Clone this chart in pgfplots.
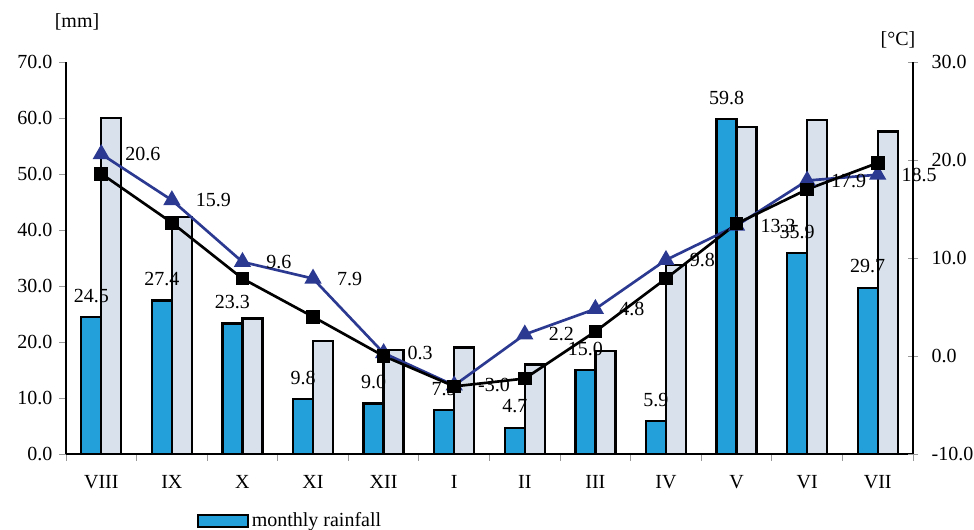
\documentclass[border=0pt]{standalone}
\usepackage{pgfplots}
\pgfplotsset{compat=1.18}
\usepackage{fontspec}
\setmainfont{Liberation Serif}
\definecolor{rainblue}{HTML}{23A0DA}
\definecolor{avggray}{HTML}{D9E2EC}
\definecolor{tblue}{HTML}{2B3990}
\pgfplotsset{/pgf/number format/assume math mode=true}
\tikzset{onedec/.style={/pgf/number format/fixed, /pgf/number format/fixed zerofill, /pgf/number format/precision=1}}
\begin{document}
\fontsize{15}{17}\selectfont
\begin{tikzpicture}
\pgfplotsset{
  base/.style={scale only axis, width=635.25pt, height=294pt,
    xmin=-0.5, xmax=11.5, clip=false},
}
\begin{axis}[base,
  ymin=0, ymax=70, ytick={0,10,...,70},
  axis x line*=bottom, axis y line*=left,
  axis line style={black, line width=1pt, -},
  yticklabel style={onedec},
  tick align=outside, major tick length=5pt,
  tick style={gray!80, line width=0.7pt},
  xtick={-0.5,0.5,...,11.5},
  x tick label as interval=true,
  xticklabels={VIII,IX,X,XI,XII,I,II,III,IV,V,VI,VII},
  xticklabel style={yshift=-6pt},
  legend style={at={(0.154,-0.171)}, anchor=west, draw=none, fill=none,
    inner sep=0pt, font=\fontsize{15}{17}\selectfont},
  legend image code/.code={\draw[#1,/tikz/.cd,line width=1.8pt] (0pt,-4.3pt) rectangle (37.5pt,4.3pt);},
]
\addplot[ybar, bar width=15pt, bar shift=-7.5pt, fill=rainblue, draw=black, line width=1.7pt,
  nodes near coords, point meta=y,
  every node near coord/.append style={onedec, text=black, anchor=south, xshift=-7.5pt, yshift=5pt}]
coordinates {(0,24.5) (1,27.4) (2,23.3) (3,9.8) (4,9.0) (5,7.9) (6,4.7) (7,15.0) (8,5.9) (9,59.8) (10,35.9) (11,29.7)};
\addlegendentry{monthly rainfall}
\addplot[ybar, bar width=15pt, bar shift=7.5pt, fill=avggray, draw=black, line width=1.7pt, forget plot]
coordinates {(0,60.0) (1,42.3) (2,24.2) (3,20.2) (4,18.6) (5,19.0) (6,16.0) (7,18.4) (8,33.7) (9,58.4) (10,59.6) (11,57.6)};
\end{axis}
\begin{axis}[base,
  ymin=-10, ymax=30, ytick={-10,0,...,30},
  axis y line*=right, axis x line=none,
  axis line style={black, line width=1pt, -},
  yticklabel style={onedec, xshift=5pt},
  tick align=center, major tick length=7.5pt,
  tick style={gray!80, line width=0.7pt},
]
\addplot[tblue, line width=2pt, mark=triangle*, mark size=5.5pt,
  nodes near coords, point meta=y,
  every node near coord/.append style={onedec, text=black, anchor=west, xshift=12pt}]
coordinates {(0,20.6) (1,15.9) (2,9.6) (3,7.9) (4,0.3) (5,-3.0) (6,2.2) (7,4.8) (8,9.8) (9,13.3) (10,17.9) (11,18.5)};
\addplot[black, line width=2pt, mark=square*, mark size=4.1pt]
coordinates {(0,18.6) (1,13.6) (2,7.9) (3,4.0) (4,0.0) (5,-3.1) (6,-2.3) (7,2.5) (8,7.9) (9,13.5) (10,17.0) (11,19.7)};
\end{axis}
\node at (8.25pt,324pt) {[mm]};
\node at (624pt,310.5pt) {[°C]};
\pgfresetboundingbox
\path[use as bounding box] (-49.5pt,-57pt) rectangle (681pt,340.5pt);
\end{tikzpicture}
\end{document}
